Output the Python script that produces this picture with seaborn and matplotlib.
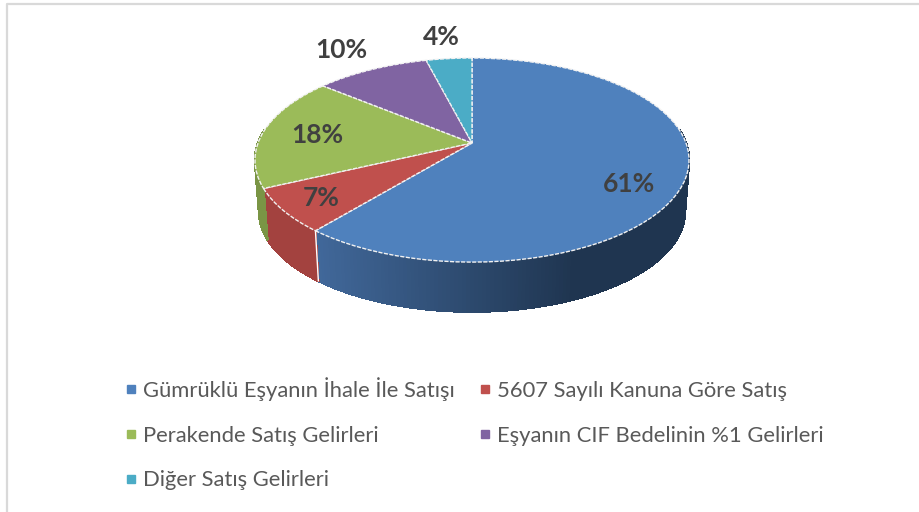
import numpy as np
import matplotlib
matplotlib.use("Agg")
import matplotlib.pyplot as plt
from matplotlib.transforms import Transform
from matplotlib.collections import PolyCollection
from matplotlib.lines import Line2D
from matplotlib.colors import to_rgb
import seaborn as sns

categories = ["Gümrüklü Eşyanın İhale İle Satışı", "5607 Sayılı Kanuna Göre Satış",
              "Perakende Satış Gelirleri", "Eşyanın CIF Bedelinin %1 Gelirleri",
              "Diğer Satış Gelirleri"]
values = [61, 7, 18, 10, 4]
colors = ["#4F81BD", "#C0504D", "#9BBB59", "#8064A2", "#4BACC6"]
wall_dark = ["#1F3550", "#96403D", "#7A9545", "#644E80", "#3A8A9E"]
wall_light = ["#41689A", "#A3423F", "#7A9545", "#644E80", "#3A8A9E"]

sns.set_theme(style="white")
plt.rcParams["font.family"] = ["Lato", "DejaVu Sans"]


class Tilt(Transform):
    """Perspective view of the unit-circle pie, in pixel-like data units."""
    input_dims = output_dims = 2
    is_separable = False
    has_inverse = False

    def __init__(self, cx=472, cy=143, sx=214, sy=99.2, k=0.167):
        super().__init__()
        self.p = (cx, cy, sx, sy, k)

    def transform_non_affine(self, v):
        v = np.asarray(v, float)
        cx, cy, sx, sy, k = self.p
        d = 1 + k * v[:, 1]
        return np.column_stack([cx + sx * v[:, 0] / d, cy - sy * v[:, 1] / d])


top = Tilt()
bottom = Tilt(cx=472, cy=195, sx=210, sy=97.2)

fig = plt.figure(figsize=(9.2, 5.12), dpi=100)
ax = fig.add_axes([0, 0, 1, 1])

shares = np.array(values, float) / sum(values)
edges = np.concatenate([[0], np.cumsum(shares)])

# side wall, built slice by slice from the shares
polys, fc = [], []
for i in range(len(values)):
    fr = np.linspace(edges[i], edges[i + 1], max(3, int(shares[i] * 400)))
    ang = np.pi / 2 - fr * 2 * np.pi
    uv = np.column_stack([np.cos(ang), np.sin(ang)])
    a, b = top.transform_non_affine(uv), bottom.transform_non_affine(uv)
    for j in range(len(fr) - 1):
        if uv[j, 1] > 0.12 and uv[j + 1, 1] > 0.12:
            continue
        polys.append([a[j], a[j + 1], b[j + 1], b[j]])
        s = np.clip((a[j, 0] - 316) / (575 - 316), 0, 1)
        c = (1 - s) * np.array(to_rgb(wall_light[i])) + s * np.array(to_rgb(wall_dark[i]))
        fc.append(c)
ax.add_collection(PolyCollection(polys, facecolors=fc, edgecolors=fc, linewidths=1.0,
                                 antialiaseds=False, zorder=1))

# white seam between the red and blue walls
seam_ang = np.pi / 2 - edges[1] * 2 * np.pi
seam = np.array([[np.cos(seam_ang), np.sin(seam_ang)]])
sa, sb = top.transform_non_affine(seam)[0], bottom.transform_non_affine(seam)[0]
ax.plot([sa[0], sb[0]], [sa[1], sb[1]], color="white", lw=1, zorder=2)

wedges, _ = ax.pie(values, colors=colors, startangle=90, counterclock=False,
                   wedgeprops=dict(edgecolor="#F2F2F2", linewidth=1, linestyle=(0, (3, 1))))
for w in wedges:
    w.set_transform(top + ax.transData)
    w.set_zorder(3)

ax.set_aspect("auto")
ax.set_xlim(0, 920)
ax.set_ylim(512, 0)
ax.set_axis_off()

label_xy = [(629, 184), (321, 198), (317, 135), (341, 50), (441, 37)]
for v, (x, y) in zip(values, label_xy):
    ax.text(x, y, f"{v}%", ha="center", va="center", fontsize=19,
            fontweight="bold", color="#404040", zorder=5)

# frame: only left and top edges fall within the picture
ax.plot([7, 7, 920], [512, 3.5, 3.5], color="#D9D9D9", lw=1.6, zorder=0, clip_on=False)

order = [0, 2, 4, 1, 3]
handles = [Line2D([], [], ls="", marker="s", ms=5.5, color=colors[i], label=categories[i]) for i in order]
fig.legend(handles=handles, loc="upper left", bbox_to_anchor=(119 / 920, 1 - 377 / 512),
           ncol=2, frameon=False, fontsize=15.8, labelcolor="#595959", labelspacing=1.125,
           handletextpad=0.0, handlelength=1.1, columnspacing=0.82, borderpad=0, borderaxespad=0)

fig.savefig("out.png", dpi=100, facecolor="white")
